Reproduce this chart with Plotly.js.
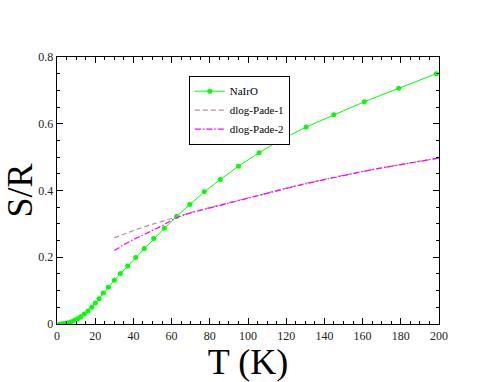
<!DOCTYPE html>
<html>
<head>
<meta charset="utf-8">
<script src="https://cdn.plot.ly/plotly-3.0.1.min.js"></script>
<style>
  html, body { margin: 0; padding: 0; background: #fff; }
  #graph { width: 494px; height: 382px; }
</style>
</head>
<body>
<div id="graph"></div>
<script>
// NaIrO entropy
const tData = [1.4, 2.8, 4.3, 5.9, 7.5, 9.1, 10.8, 12.4, 14.3, 16.2, 18.2, 20.1, 22.0, 24.2, 26.9,
               30.0, 33.2, 37.0, 41.2, 45.7, 50.6, 56.2, 62.5, 69.5, 77.1, 85.5, 95.0, 105.8,
               117.3, 130.4, 144.9, 160.9, 178.9, 198.6];
const sData = [0.000, 0.001, 0.002, 0.004, 0.007, 0.011, 0.016, 0.022, 0.030, 0.039, 0.050, 0.063, 0.076, 0.093, 0.110,
               0.131, 0.151, 0.174, 0.199, 0.226, 0.256, 0.287, 0.322, 0.358, 0.396, 0.433, 0.473, 0.513,
               0.552, 0.590, 0.627, 0.666, 0.706, 0.750];

// dlog-Pade fits
const tPade = [30, 35, 40, 45, 50, 55, 60, 65, 70, 80, 90, 100, 110, 120, 130, 140, 150, 160, 170, 180, 190, 200];
const sPade1 = [0.258, 0.270, 0.280, 0.290, 0.299, 0.308, 0.317, 0.326, 0.334, 0.349, 0.364, 0.379, 0.393, 0.407,
                0.421, 0.434, 0.446, 0.457, 0.468, 0.478, 0.488, 0.497];
const sPade2 = [0.220, 0.238, 0.253, 0.267, 0.280, 0.294, 0.311, 0.324, 0.333, 0.348, 0.363, 0.378, 0.392, 0.406,
                0.420, 0.433, 0.445, 0.457, 0.468, 0.478, 0.488, 0.497];

const serif = "Liberation Serif, Times New Roman, serif";

const data = [
    {
        x: tData, y: sData, type: "scatter", mode: "lines+markers", name: "NaIrO",
        line: { color: "#00ff00", width: 1 },
        marker: { color: "#00ff00", size: 5 },
    },
    {
        x: tPade, y: sPade1, type: "scatter", mode: "lines", name: "dlog-Pade-1",
        line: { color: "#bc8f8f", width: 1.2, dash: "5px,3px" },
    },
    {
        x: tPade, y: sPade2, type: "scatter", mode: "lines", name: "dlog-Pade-2",
        line: { color: "#ff00ff", width: 1.2, dash: "6px,2px,1.5px,2px" },
    },
];

const axisBase = {
    showgrid: false, zeroline: false,
    showline: true, linecolor: "#000", linewidth: 1.3, mirror: "ticks",
    ticks: "inside", ticklen: 6, tickwidth: 1, tickcolor: "#000",
    tickfont: { family: serif, size: 12, color: "#222" },
};

const layout = {
    width: 494, height: 382,
    margin: { l: 57, r: 55, t: 57, b: 58 },
    paper_bgcolor: "#fff", plot_bgcolor: "#fff",
    font: { family: serif, color: "#000" },
    showlegend: true,
    legend: {
        x: 0.345, y: 0.93, xanchor: "left", yanchor: "top",
        bordercolor: "#000", borderwidth: 1, bgcolor: "#fff",
        font: { family: serif, size: 11, color: "#000" },
        itemwidth: 30, tracegroupgap: 0,
    },
    xaxis: Object.assign({}, axisBase, {
        range: [0, 200], tick0: 0, dtick: 20,
        minor: { dtick: 5, ticks: "inside", ticklen: 3, tickcolor: "#000" },
        title: { text: "T (K)", font: { family: serif, size: 36 }, standoff: 2 },
    }),
    yaxis: Object.assign({}, axisBase, {
        range: [0, 0.8], tick0: 0, dtick: 0.2,
        minor: { dtick: 0.05, ticks: "inside", ticklen: 3, tickcolor: "#000" },
        title: { text: "S/R", font: { family: serif, size: 36 }, standoff: 4 },
    }),
};

Plotly.newPlot("graph", data, layout, { staticPlot: true });
</script>
</body>
</html>
